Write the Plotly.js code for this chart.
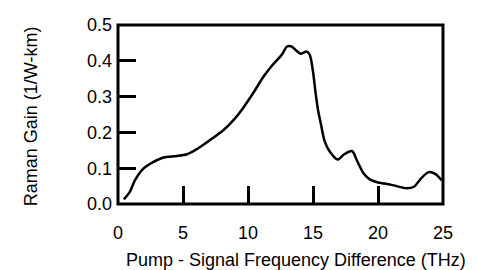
<!DOCTYPE html>
<html>
<head>
<meta charset="utf-8">
<script src="https://cdn.plot.ly/plotly-3.0.1.min.js"></script>
<style>html,body{margin:0;padding:0;background:#fff;}#chart{width:477px;height:270px;}</style>
</head>
<body>
<div id="chart"></div>
<script>
const freqTHz = [0.45,0.9,1.3,1.95,2.7,3.5,4.5,5.3,6.0,6.9,8.1,8.9,9.6,10.4,11.2,11.9,12.6,13.0,13.35,13.7,14.05,14.5,14.75,15.0,15.2,15.4,15.6,15.9,16.3,16.9,17.4,18.0,18.4,18.9,19.4,20.0,20.5,21.2,22.2,22.8,23.3,23.9,24.4,24.9];
const gain = [0.013,0.033,0.066,0.099,0.117,0.13,0.134,0.139,0.152,0.174,0.206,0.235,0.267,0.31,0.356,0.389,0.417,0.44,0.44,0.429,0.42,0.426,0.417,0.37,0.31,0.26,0.225,0.175,0.146,0.124,0.139,0.148,0.12,0.085,0.068,0.06,0.057,0.052,0.044,0.049,0.071,0.089,0.084,0.066];
const xTicks = [0,5,10,15,20,25];
const yTicks = [0.0,0.1,0.2,0.3,0.4,0.5];
const yTickText = ['0.0','0.1','0.2','0.3','0.4','0.5'];
const xTitle = 'Pump - Signal Frequency Difference (THz)';
const yTitle = 'Raman Gain (1/W-km)';

const font = {family: 'Liberation Sans, Arial, sans-serif', size: 18, color: '#000'};
Plotly.newPlot('chart', [{
  x: freqTHz, y: gain, type: 'scatter', mode: 'lines',
  line: {color: '#000', width: 2.5, shape: 'spline', smoothing: 0.8},
  hoverinfo: 'skip'
}], {
  width: 477, height: 270,
  margin: {l: 118, r: 34, t: 25, b: 66},
  paper_bgcolor: '#fff', plot_bgcolor: '#fff',
  font: font,
  showlegend: false,
  xaxis: {
    range: [0, 25], tickvals: xTicks, ticktext: xTicks.map(String),
    ticks: 'inside', ticklen: 18, tickwidth: 3, tickcolor: '#000',
    showgrid: false, zeroline: false, showline: false,
    tickfont: font, ticklabelstandoff: 16
  },
  yaxis: {
    range: [0, 0.5], tickvals: yTicks, ticktext: yTickText,
    ticks: 'inside', ticklen: 18, tickwidth: 3, tickcolor: '#000',
    showgrid: false, zeroline: false, showline: false,
    tickfont: font, ticklabelstandoff: 5
  },
  annotations: [
    {text: xTitle, xref: 'paper', yref: 'paper', x: 0.548, y: 0, xanchor: 'center', yanchor: 'middle',
     yshift: -56, showarrow: false, font: font},
    {text: yTitle, xref: 'paper', yref: 'paper', x: 0, y: 0.49, xanchor: 'center', yanchor: 'middle',
     xshift: -87, textangle: -90, showarrow: false, font: font}
  ],
  shapes: [{
    type: 'rect', xref: 'paper', yref: 'paper', x0: 0, x1: 1, y0: 0, y1: 1,
    line: {color: '#000', width: 3}, fillcolor: 'rgba(0,0,0,0)'
  }]
}, {staticPlot: true, displayModeBar: false});
</script>
</body>
</html>
